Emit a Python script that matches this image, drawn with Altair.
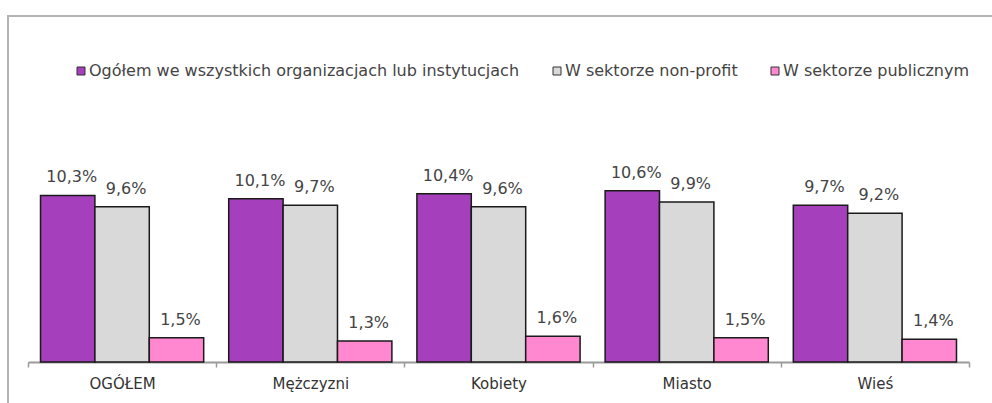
import altair as alt
import pandas as pd

categories = ["OGÓŁEM", "Mężczyzni", "Kobiety", "Miasto", "Wieś"]
series = [
    "Ogółem we wszystkich organizacjach lub instytucjach",
    "W sektorze non-profit",
    "W sektorze publicznym",
]
ogolem = [10.3, 10.1, 10.4, 10.6, 9.7]
non_profit = [9.6, 9.7, 9.6, 9.9, 9.2]
publiczny = [1.5, 1.3, 1.6, 1.5, 1.4]
colors = ["#a53fbb", "#d9d9d9", "#ff88d0"]

rows = []
for s, vals in zip(series, [ogolem, non_profit, publiczny]):
    for c, v in zip(categories, vals):
        rows.append({"cat": c, "series": s, "value": v,
                     "label": f"{v:.1f}".replace(".", ",") + "%"})
df = pd.DataFrame(rows)

W, H = 941, 194

x_enc = alt.X("cat:N", sort=categories, title=None,
              scale=alt.Scale(paddingInner=0, paddingOuter=0),
              axis=alt.Axis(labelAngle=0, tickBand="extent", domainColor="#9a9a9a",
                            domainWidth=2, tickColor="#9a9a9a", tickWidth=1.5,
                            tickSize=5, labelFontSize=15, labelColor="#333333",
                            labelPadding=9, labelFont="DejaVu Sans"))
xo_enc = alt.XOffset("series:N", sort=series,
                     scale=alt.Scale(paddingInner=0, paddingOuter=0.23))
y_enc = alt.Y("value:Q", scale=alt.Scale(domain=[0, 12]), axis=None)

base = alt.Chart(df)
bars = base.mark_bar(stroke="#1a1a1a", strokeWidth=1.5).encode(
    x=x_enc, xOffset=xo_enc, y=y_enc,
    color=alt.Color("series:N", sort=series,
                    scale=alt.Scale(domain=series, range=colors),
                    legend=alt.Legend(orient="none", legendX=45, legendY=-105,
                                      direction="horizontal", title=None,
                                      symbolType="square", symbolSize=64,
                                      symbolStrokeColor="#333333", symbolStrokeWidth=1,
                                      labelFontSize=16, labelColor="#444444",
                                      labelFont="DejaVu Sans", labelOffset=0,
                                      labelLimit=1000, columnPadding=29)),
)
labels = base.mark_text(baseline="alphabetic", dy=-13, dx=4, fontSize=16,
                        color="#444444", font="DejaVu Sans").encode(
    x=x_enc, xOffset=xo_enc, y=y_enc, text="label:N")

one = pd.DataFrame({"a": [0]})
frame_top = alt.Chart(one).mark_rule(color="#b3b3b3", strokeWidth=2).encode(
    x=alt.value(-21), x2=alt.value(1000), y=alt.value(-152))
frame_left = alt.Chart(one).mark_rule(color="#b3b3b3", strokeWidth=2).encode(
    x=alt.value(-20), y=alt.value(-152), y2=alt.value(240))

chart = alt.layer(frame_top, frame_left, bars, labels).properties(
    width=W, height=H,
    autosize=alt.AutoSizeParams(type="none"),
    padding={"left": 28, "top": 168, "right": 23, "bottom": 41},
).configure(font="DejaVu Sans", background="white").configure_view(stroke=None, strokeWidth=0)

chart.save("out.html", embed_options={"renderer": "svg", "actions": False})
